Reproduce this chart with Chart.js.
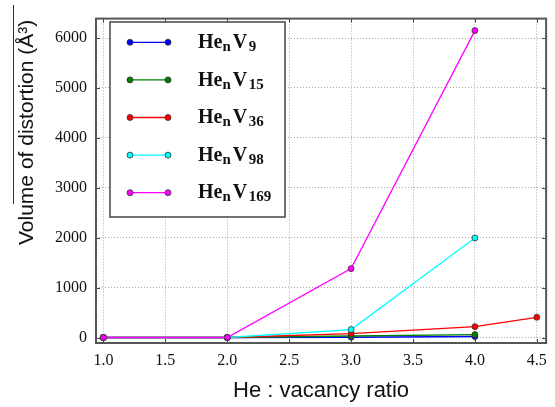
<!DOCTYPE html>
<html>
<head>
<meta charset="utf-8">
<script src="https://cdn.jsdelivr.net/npm/chart.js@4"></script>
<style>
    body { margin: 0; background: #fff; }
    #wrap { width: 555px; height: 407px; }
</style>
</head>
<body>
<div id="wrap"><canvas id="chart" width="555" height="407"></canvas></div>
<script>
// データ (He : vacancy ratio / volume of distortion)
const vacancies = ['9', '15', '36', '98', '169'];

const ratioV9 = [1.0, 2.0, 3.0, 4.0];
const volumeV9 = [0, 0, 5, 20];

const ratioV15 = [1.0, 2.0, 3.0, 4.0];
const volumeV15 = [0, 0, 30, 58];

const ratioV36 = [1.0, 2.0, 3.0, 4.0, 4.5];
const volumeV36 = [0, 0, 78, 218, 405];

const ratioV98 = [1.0, 2.0, 3.0, 4.0];
const volumeV98 = [0, 0, 160, 1995];

const ratioV169 = [1.0, 2.0, 3.0, 4.0];
const volumeV169 = [0, 0, 1380, 6150];

const xTicks = [1.0, 1.5, 2.0, 2.5, 3.0, 3.5, 4.0, 4.5];
const yTicks = [0, 1000, 2000, 3000, 4000, 5000, 6000];

const seriesColors = ['#0000ff', '#008000', '#ff0000', '#00ffff', '#ff00ff'];
const ratios = [ratioV9, ratioV15, ratioV36, ratioV98, ratioV169];
const volumes = [volumeV9, volumeV15, volumeV36, volumeV98, volumeV169];

function makeDataset(i) {
    return {
        label: 'HenV' + vacancies[i],
        data: ratios[i].map((x, k) => ({ x: x, y: volumes[i][k] })),
        borderColor: seriesColors[i],
        backgroundColor: seriesColors[i],
        pointBackgroundColor: seriesColors[i],
        pointBorderColor: '#333',
        pointBorderWidth: 0.8,
        pointRadius: 3,
        borderWidth: 1.3,
        tension: 0,
        order: vacancies.length - i
    };
}

// 枠と内向きの目盛り
const framePlugin = {
    id: 'frame',
    afterDatasetsDraw(chart) {
        const { ctx, chartArea: a, scales: { x, y } } = chart;
        ctx.save();
        ctx.strokeStyle = '#444';
        ctx.lineWidth = 1;
        ctx.beginPath();
        xTicks.forEach(v => {
            const px = Math.round(x.getPixelForValue(v)) + 0.5;
            ctx.moveTo(px, a.bottom); ctx.lineTo(px, a.bottom - 4);
            ctx.moveTo(px, a.top); ctx.lineTo(px, a.top + 4);
        });
        yTicks.forEach(v => {
            const py = Math.round(y.getPixelForValue(v)) + 0.5;
            ctx.moveTo(a.left, py); ctx.lineTo(a.left + 4, py);
            ctx.moveTo(a.right, py); ctx.lineTo(a.right - 4, py);
        });
        ctx.stroke();
        ctx.strokeStyle = '#555';
        ctx.lineWidth = 2;
        ctx.strokeRect(a.left, a.top, a.right - a.left, a.bottom - a.top);
        ctx.restore();
    }
};

// Y軸タイトル (上線つき)
const yTitlePlugin = {
    id: 'yTitle',
    afterDraw(chart) {
        const ctx = chart.ctx;
        ctx.save();
        ctx.translate(33, 245);
        ctx.rotate(-Math.PI / 2);
        ctx.fillStyle = '#111';
        ctx.font = '21px "Liberation Sans"';
        ctx.textAlign = 'left';
        ctx.textBaseline = 'alphabetic';
        ctx.fillText('Volume of distortion (Å³)', 0, 0);
        ctx.restore();
        ctx.save();
        ctx.strokeStyle = '#333';
        ctx.lineWidth = 1;
        ctx.beginPath();
        ctx.moveTo(13.5, 5);
        ctx.lineTo(13.5, 204);
        ctx.stroke();
        ctx.restore();
    }
};

// 凡例 (下付き文字つき)
const legendPlugin = {
    id: 'legendBox',
    afterDraw(chart) {
        const ctx = chart.ctx;
        const box = { left: 110, top: 22, width: 175, height: 195 };
        ctx.save();
        ctx.fillStyle = '#fff';
        ctx.fillRect(box.left, box.top, box.width, box.height);
        ctx.strokeStyle = '#444';
        ctx.lineWidth = 1.5;
        ctx.strokeRect(box.left, box.top, box.width, box.height);

        chart.data.datasets.forEach((ds, i) => {
            const rowY = 42.3 + i * 37.6;
            ctx.strokeStyle = ds.borderColor;
            ctx.lineWidth = ds.borderWidth;
            ctx.beginPath();
            ctx.moveTo(130, rowY);
            ctx.lineTo(168, rowY);
            ctx.stroke();
            [130, 168].forEach(px => {
                ctx.beginPath();
                ctx.arc(px, rowY, ds.pointRadius, 0, Math.PI * 2);
                ctx.fillStyle = ds.pointBackgroundColor;
                ctx.fill();
                ctx.lineWidth = ds.pointBorderWidth;
                ctx.strokeStyle = ds.pointBorderColor;
                ctx.stroke();
            });

            const big = 'bold 20px "Liberation Serif"';
            const small = 'bold 15px "Liberation Serif"';
            const base = rowY + 5.6;
            let tx = 198;
            ctx.fillStyle = '#111';
            ctx.textAlign = 'left';
            ctx.textBaseline = 'alphabetic';
            ctx.font = big;
            ctx.fillText('He', tx, base);
            tx += ctx.measureText('He').width;
            ctx.font = small;
            ctx.fillText('n', tx, base + 3);
            tx += ctx.measureText('n').width + 2;
            ctx.font = big;
            ctx.fillText('V', tx, base);
            tx += ctx.measureText('V').width + 1.5;
            ctx.font = small;
            ctx.fillText(vacancies[i], tx, base + 3);
        });
        ctx.restore();
    }
};

const tickFont = { family: 'Liberation Serif', size: 16 };

const chart = new Chart(document.getElementById('chart'), {
    type: 'line',
    data: { datasets: vacancies.map((v, i) => makeDataset(i)) },
    options: {
        responsive: false,
        animation: false,
        layout: { padding: { top: 7, right: 8, left: 0, bottom: 0 } },
        plugins: {
            legend: { display: false },
            tooltip: { enabled: false }
        },
        scales: {
            x: {
                type: 'linear',
                min: 0.94,
                max: 4.575,
                afterBuildTicks: s => { s.ticks = xTicks.map(v => ({ value: v })); },
                afterFit: s => { s.height = 64; },
                grid: { color: '#aaa', lineWidth: 1, drawTicks: false },
                border: { display: false, dash: [1, 2] },
                ticks: {
                    padding: 8,
                    color: '#111',
                    font: tickFont,
                    maxRotation: 0,
                    autoSkip: false,
                    callback: v => Number(v).toFixed(1)
                },
                title: {
                    display: true,
                    text: 'He : vacancy ratio',
                    color: '#111',
                    font: { family: 'Liberation Sans', size: 22 },
                    padding: { top: 0, bottom: 3 }
                }
            },
            y: {
                type: 'linear',
                min: -110,
                max: 6390,
                afterBuildTicks: s => { s.ticks = yTicks.map(v => ({ value: v })); },
                afterFit: s => { s.width = 96; },
                grid: { color: '#aaa', lineWidth: 1, drawTicks: false },
                border: { display: false, dash: [1, 2] },
                ticks: {
                    padding: 9,
                    color: '#111',
                    font: tickFont,
                    autoSkip: false,
                    callback: v => String(v)
                }
            }
        }
    },
    plugins: [framePlugin, yTitlePlugin, legendPlugin]
});
</script>
</body>
</html>
